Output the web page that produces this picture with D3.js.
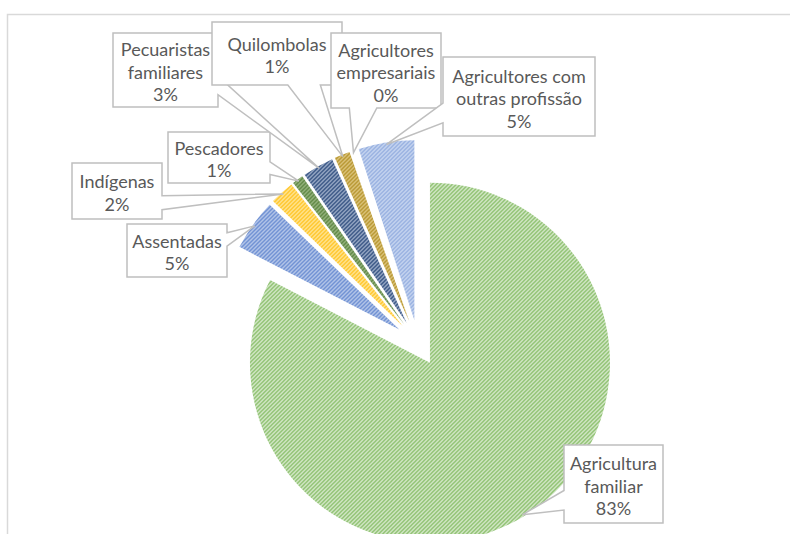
<!DOCTYPE html>
<html><head><meta charset="utf-8">
<script src="https://cdn.jsdelivr.net/npm/d3@7"></script>
<style>body{margin:0;background:#fff} svg{display:block}</style>
</head><body><svg id="c" width="790" height="534"></svg>
<script>
// ---- data ----
const categories = ["Agricultura familiar","Assentadas","Indígenas","Pescadores","Pecuaristas familiares","Quilombolas","Agricultores empresariais","Agricultores com outras profissão"];
const values = [82.6, 4.6, 2.2, 1.0, 2.8, 1.4, 0.4, 5.0];
const labelLines = [["Agricultura","familiar"],["Assentadas"],["Indígenas"],["Pescadores"],["Pecuaristas","familiares"],["Quilombolas"],["Agricultores","empresariais"],["Agricultores com","outras profissão"]];
// ---- styles ----
const lineColors = ["#86bd66","#5a80cd","#ffc21a","#4f7a33","#2f4d7e","#ad8a1c","#ffffff","#8aa6dc"];
const bgColors   = ["#e0eed7","#cdd9f0","#ffeaa8","#a9c393","#a6b5cf","#e8d395","#ffffff","#d6e1f5"];
// ---- layout ----
const cx = 418, cy = 343, R = 180, explode = 23;
const labelBoxes = [[564,445,99,78],[127,224,100,53],[72,163,90,56],[168,132,102,51],[113,33,105,74],[212,22,130,63],[331,33,110,75],[443,57,152,79]];

const svg = d3.select("#c");
const defs = svg.append("defs");
values.forEach((v,i)=>{
  const p = defs.append("pattern").attr("id","pat"+i).attr("patternUnits","userSpaceOnUse")
    .attr("width",4).attr("height",4);
  p.append("rect").attr("width",4).attr("height",4).attr("fill",bgColors[i]);
  p.append("path").attr("d","M-1,5 L5,-1 M-1,1 L1,-1 M3,5 L5,3")
    .attr("stroke",lineColors[i]).attr("stroke-width",1.5);
});

// chart border
svg.append("rect").attr("x",7.5).attr("y",14.5).attr("width",900).attr("height",700)
  .attr("fill","none").attr("stroke","#d9d9d9").attr("stroke-width",1.5);

const pie = d3.pie().sort(null).value(d=>d);
const arcs = pie(values);
const arc = d3.arc().innerRadius(0).outerRadius(R);
const total = d3.sum(values);
const fmt = d3.format(".0%");

arcs.forEach((a,i)=>{
  const mid = (a.startAngle + a.endAngle)/2;
  const ox = cx + explode*Math.sin(mid), oy = cy - explode*Math.cos(mid);
  svg.append("path").attr("d", arc(a)).attr("transform",`translate(${ox},${oy})`)
    .attr("fill",`url(#pat${i})`);
});

function callout(x,y,w,h,tx,ty){
  const l=x,t=y,r=x+w,b=y+h,hc=x+w/2,vc=y+h/2;
  const dx=tx-hc, dy=ty-vc;
  const dq=dx*h/w, dz=Math.abs(dy)-Math.abs(dq);
  const x1=l+w*(dx>0?7:2)/12, x2=l+w*(dx>0?10:5)/12;
  const y1=t+h*(dy>0?7:2)/12, y2=t+h*(dy>0?10:5)/12;
  let pts=[[l,t]];
  if(dz>0 && dy<0) pts.push([x1,t],[tx,ty],[x2,t]);
  pts.push([r,t]);
  if(dz<=0 && dx>0) pts.push([r,y1],[tx,ty],[r,y2]);
  pts.push([r,b]);
  if(dz>0 && dy>0) pts.push([x2,b],[tx,ty],[x1,b]);
  pts.push([l,b]);
  if(dz<=0 && dx<0) pts.push([l,y2],[tx,ty],[l,y1]);
  return "M"+pts.map(p=>p.join(",")).join("L")+"Z";
}

arcs.forEach((a,i)=>{
  const mid = (a.startAngle + a.endAngle)/2;
  const tr = explode + R - 2;
  const tx = cx + tr*Math.sin(mid), ty = cy - tr*Math.cos(mid);
  const [bx,by,bw,bh] = labelBoxes[i];
  const g = svg.append("g");
  g.append("path").attr("d",callout(bx,by,bw,bh,tx,ty))
    .attr("fill","#fff").attr("stroke","#bfbfbf").attr("stroke-width",1.5).attr("stroke-linejoin","miter");
  const lines = labelLines[i].concat([fmt(values[i]/total)]);
  const lh = 22.5;
  const y0 = by + bh/2 - (lines.length-1)*lh/2 + 1.5;
  lines.forEach((s,k)=>{
    g.append("text").attr("x",bx+bw/2).attr("y",y0+k*lh).attr("text-anchor","middle")
      .attr("dominant-baseline","central")
      .attr("font-family","Lato, 'Open Sans', sans-serif").attr("font-size",18)
      .attr("fill","#595959").text(s);
  });
});
</script></body></html>
